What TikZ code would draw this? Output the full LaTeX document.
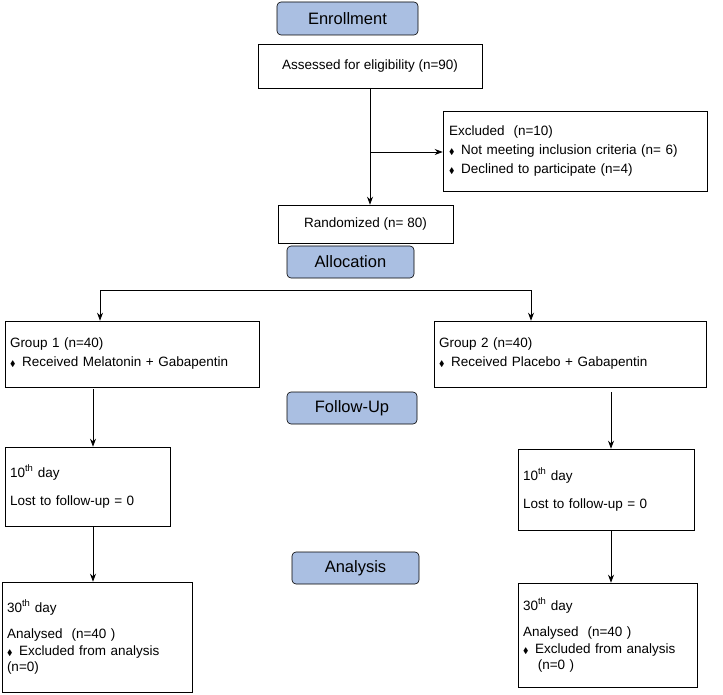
\documentclass[tikz,border=0pt]{standalone}
\usepackage{fontspec}
\usepackage{amssymb}
\setmainfont{Liberation Sans}
\usetikzlibrary{arrows.meta}
\definecolor{hdr}{HTML}{AABFE2}
\newcommand{\dia}{{\scalebox{0.6}{$\blacklozenge$}}\hspace{0.5em}}
\begin{document}
\begin{tikzpicture}[x=1pt,y=-1pt,font=\fontsize{13.5}{16}\selectfont,
  box/.style={draw,line width=0.6pt,inner sep=0pt},
  hd/.style={draw,line width=0.6pt,fill=hdr,rounded corners=4pt,font=\fontsize{16.5}{19}\selectfont},
  arr/.style={-{Stealth[length=8pt,width=6pt]},line width=0.8pt},
  ln/.style={line width=0.8pt}]
\useasboundingbox (0,0) rectangle (723,695);
% headers
\node[hd,minimum width=141pt,minimum height=33pt] (enr) at (347.5,18.5) {Enrollment};
\node[hd,minimum width=127pt,minimum height=32pt] (alloc) at (350.5,262) {Allocation};
\node[hd,minimum width=130pt,minimum height=32pt] (fu) at (352,408) {Follow-Up};
\node[hd,minimum width=127pt,minimum height=32pt] (ana) at (355.5,568) {Analysis};
% boxes
\node[box,minimum width=224pt,minimum height=44pt] (ass) at (370,66) {Assessed for eligibility (n=90)};
\node[box,minimum width=264pt,minimum height=80pt,align=left,text width=252pt] (exc) at (575,151)
 {Excluded\ \ (n=10)\\[3pt]\dia Not meeting inclusion criteria (n= 6)\\[3pt]\dia Declined to participate (n=4)};
\node[box,minimum width=175pt,minimum height=38pt] (rand) at (365.5,224) {Randomized (n= 80)};
\node[box,minimum width=254pt,minimum height=66pt,align=left,text width=244pt] (g1) at (132,354)
 {Group 1 (n=40)\\[3pt]\dia Received Melatonin + Gabapentin};
\node[box,minimum width=272pt,minimum height=66pt,align=left,text width=262pt] (g2) at (570,354)
 {Group 2 (n=40)\\[3pt]\dia Received Placebo + Gabapentin};
\node[box,minimum width=165pt,minimum height=79pt,align=left,text width=155pt] (d1) at (87.5,486.5)
 {10\textsuperscript{th} day\\[12pt]Lost to follow-up = 0};
\node[box,minimum width=176pt,minimum height=81pt,align=left,text width=166pt] (d2) at (606,489.5)
 {10\textsuperscript{th} day\\[12pt]Lost to follow-up = 0};
\node[box,minimum width=190pt,minimum height=110pt,align=left,text width=180pt] (a1) at (97,637)
 {30\textsuperscript{th} day\\[10pt]Analysed\ \ (n=40 )\\[1pt]\dia Excluded from analysis\\(n=0)};
\node[box,minimum width=179pt,minimum height=104pt,align=left,text width=169pt] (a2) at (607.5,635)
 {30\textsuperscript{th} day\\[10pt]Analysed\ \ (n=40 )\\[1pt]\dia Excluded from analysis\\\hspace*{1.1em}(n=0 )};
% connectors
\coordinate (tp) at (370,88);
\draw[arr] (tp) -- (tp |- rand.north);
\coordinate (br) at (370,152);
\draw[arr] (br) -- (exc.west |- br);
\coordinate (l) at (100,290);
\coordinate (r) at (531,290);
\draw[ln] (l) -- (r);
\draw[arr] (l) -- (l |- g1.north);
\draw[arr] (r) -- (r |- g2.north);
\coordinate (lx) at (93,389);
\coordinate (rx) at (611,392);
\draw[arr] (lx) -- (lx |- d1.north);
\draw[arr] (rx) -- (rx |- d2.north);
\draw[arr] (lx |- d1.south) -- (lx |- a1.north);
\draw[arr] (rx |- d2.south) -- (rx |- a2.north);
\end{tikzpicture}
\end{document}
